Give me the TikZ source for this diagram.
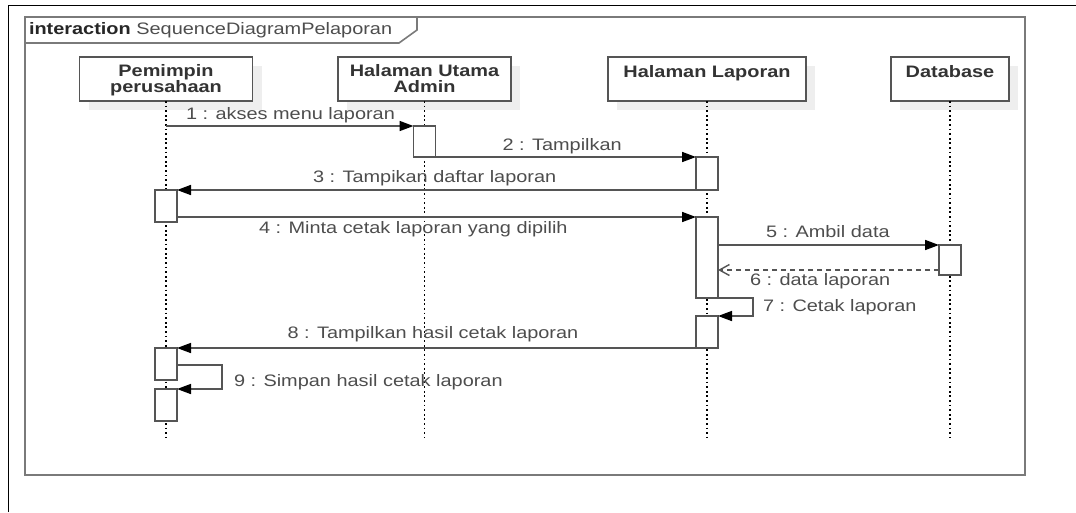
\documentclass[tikz,border=0pt]{standalone}
\usepackage{fontspec}
\setmainfont{Liberation Sans}[FakeStretch=1.2]
\usetikzlibrary{arrows.meta,shadows}
\definecolor{ln}{HTML}{555555}
\definecolor{fr}{HTML}{7A7A7A}
\definecolor{tx}{HTML}{4D4D4D}
\definecolor{nm}{HTML}{333333}
\definecolor{sh}{HTML}{EEEEEE}
\begin{document}
\begin{tikzpicture}[x=1pt,y=-1pt,
  every node/.style={inner sep=0pt,outer sep=0pt},
  lbl/.style={font=\fontsize{16.6}{18}\selectfont, text=tx, anchor=base west},
  obj/.style={draw=ln, fill=white, line width=1.6pt, minimum height=44pt,
    drop shadow={shadow xshift=9pt, shadow yshift=-9pt, fill=sh, opacity=1}},
  objname/.style={font=\fontsize{16.6}{15.5}\selectfont\bfseries, text=nm, align=center, anchor=north},
  act/.style={draw=ln, fill=white, line width=1.6pt, minimum width=22pt, anchor=north},
  life/.style={line width=1.8pt, dash pattern=on 1.8pt off 2.8pt, black},
  msg/.style={draw=ln, line width=1.6pt, -{Triangle[length=14pt,width=10pt,color=black]}},
  ret/.style={draw=ln, line width=1.6pt, dash pattern=on 5pt off 4pt, -{Straight Barb[length=10pt,width=11pt,line width=1.4pt]}}
]
\useasboundingbox (0,0) rectangle (1076,512);
% outer page border
\draw[black, line width=1.5pt] (8.5,512) -- (8.5,5.5) -- (1076,5.5);
% interaction frame
\draw[fr, line width=2pt] (25,17) rectangle (1025,475);
\draw[fr, line width=1.6pt] (25,43) -- (399,43) -- (417,30) -- (417,17);
\node[anchor=base west, font=\fontsize{16.6}{18}\selectfont, text=tx] (title) at (29,34)
  {\textcolor{black!85}{\bfseries interaction} SequenceDiagramPelaporan};

% lifeline heads
\node[obj, minimum width=173pt] (P) at (166,79) {};
\node[obj, minimum width=173pt] (A) at (424.5,79) {};
\node[obj, minimum width=198pt] (L) at (707,79) {};
\node[obj, minimum width=118pt] (D) at (950,79) {};
\node[objname] (Pt) at (166,64.5) {Pemimpin\\perusahaan};
\node[objname] (At) at (424.5,64.5) {Halaman Utama\\Admin};
\node[objname] (Lt) at (707,65.5) {Halaman Laporan};
\node[objname] (Dt) at (950,65.5) {Database};

% lifelines
\coordinate (Pe) at (166,437);
\coordinate (Ae) at (424.5,437);
\coordinate (Le) at (707,437);
\coordinate (De) at (950,437);
\draw[life] (P.south) -- (Pe);
\draw[life] (A.south) -- (Ae);
\draw[life] (L.south) -- (Le);
\draw[life] (D.south) -- (De);

% activations
\node[act, minimum height=31pt] (A1) at (424.5,126) {};
\node[act, minimum height=33pt] (L1) at (707,157) {};
\node[act, minimum height=32pt] (P1) at (166,190) {};
\node[act, minimum height=81pt] (L2) at (707,217) {};
\node[act, minimum height=30pt] (D1) at (950,245) {};
\node[act, minimum height=32pt] (L3) at (707,316) {};
\node[act, minimum height=32pt] (P2) at (166,348) {};
\node[act, minimum height=32pt] (P3) at (166,389) {};

% messages
\coordinate (m1s) at (166,126);
\draw[msg] (m1s) -- (A1.north west);
\draw[msg] (A1.south east) -- (L1.north west);
\draw[msg] (L1.south west) -- (P1.north east);
\draw[msg] (P1.east |- L2.north) -- (L2.north west);
\draw[msg] (L2.east |- D1.north) -- (D1.north west);
\coordinate (m6s) at ([yshift=5pt]D1.south west);
\draw[ret] (m6s) -- (m6s -| L2.east);
\draw[msg] (L2.south east) -- ++(35,0) |- (L3.north east);
\draw[msg] (L3.south west) -- (P2.north east);
\draw[msg] ([yshift=-17pt]P2.north east) -- ++(45,0) |- (P3.north east);

% labels
\node[lbl] (t1) at (186,119) {1 : akses menu laporan};
\node[lbl] (t2) at (502.5,150) {2 : Tampilkan};
\node[lbl] (t3) at (313,182.3) {3 : Tampikan daftar laporan};
\node[lbl] (t4) at (259,233) {4 : Minta cetak laporan yang dipilih};
\node[lbl] (t5) at (766,237) {5 : Ambil data};
\node[lbl] (t6) at (750,285.3) {6 : data laporan};
\node[lbl] (t7) at (763,311.3) {7 : Cetak laporan};
\node[lbl] (t8) at (287.5,338.3) {8 : Tampilkan hasil cetak laporan};
\node[lbl] (t9) at (234,386) {9 : Simpan hasil cetak laporan};
\end{tikzpicture}
\end{document}
